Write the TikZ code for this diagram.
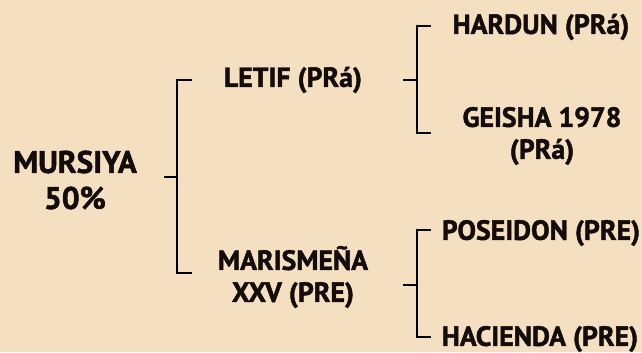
\documentclass[tikz,border=0pt]{standalone}
\usepackage{fontspec}
\setmainfont{PT Sans}[BoldFeatures={FakeBold=1.6}]
\usetikzlibrary{positioning,calc}
\definecolor{bgcol}{RGB}{245,223,193}
\definecolor{txtcol}{RGB}{20,12,10}

\begin{document}
\begin{tikzpicture}[
    x=0.02cm, y=-0.02cm,
    horse/.style={font=\fontsize{15.8}{18.2}\selectfont\bfseries, text=txtcol, align=center, inner sep=0pt},
    root/.style={font=\fontsize{17.8}{20.5}\selectfont\bfseries, text=txtcol, align=center, inner sep=0pt},
    bracket/.style={draw=black, line width=1.2pt},
]
\useasboundingbox[fill=bgcol] (0,0) rectangle (642,352);

% horses
\node[root] (mursiya) at (75,180) {MURSIYA\\50\%};
\node[horse] (letif) at (293,80) {LETIF (PRá)};
\node[horse] (marismena) at (293,277) {MARISMEÑA\\XXV (PRE)};
\node[horse] (hardun) at (541,27) {HARDUN (PRá)};
\node[horse] (geisha) at (542,136) {GEISHA 1978\\(PRá)};
\node[horse] (poseidon) at (541,233) {POSEIDON (PRE)};
\node[horse] (hacienda) at (540,339) {HACIENDA (PRE)};

% brackets
\coordinate (r1) at (164,177);
\coordinate (j1) at (177,177);
\coordinate (a1) at (192,80);
\coordinate (b1) at (192,273);
\draw[bracket] (r1) -- (j1);
\draw[bracket] (a1) -| (j1) |- (b1);

\coordinate (r2) at (403,80);
\coordinate (j2) at (417,80);
\coordinate (a2) at (431,26);
\coordinate (b2) at (431,133);
\draw[bracket] (r2) -- (j2);
\draw[bracket] (a2) -| (j2) |- (b2);

\coordinate (r3) at (403,285);
\coordinate (j3) at (417,285);
\coordinate (a3) at (431,230);
\coordinate (b3) at (431,337);
\draw[bracket] (r3) -- (j3);
\draw[bracket] (a3) -| (j3) |- (b3);
\end{tikzpicture}
\end{document}
